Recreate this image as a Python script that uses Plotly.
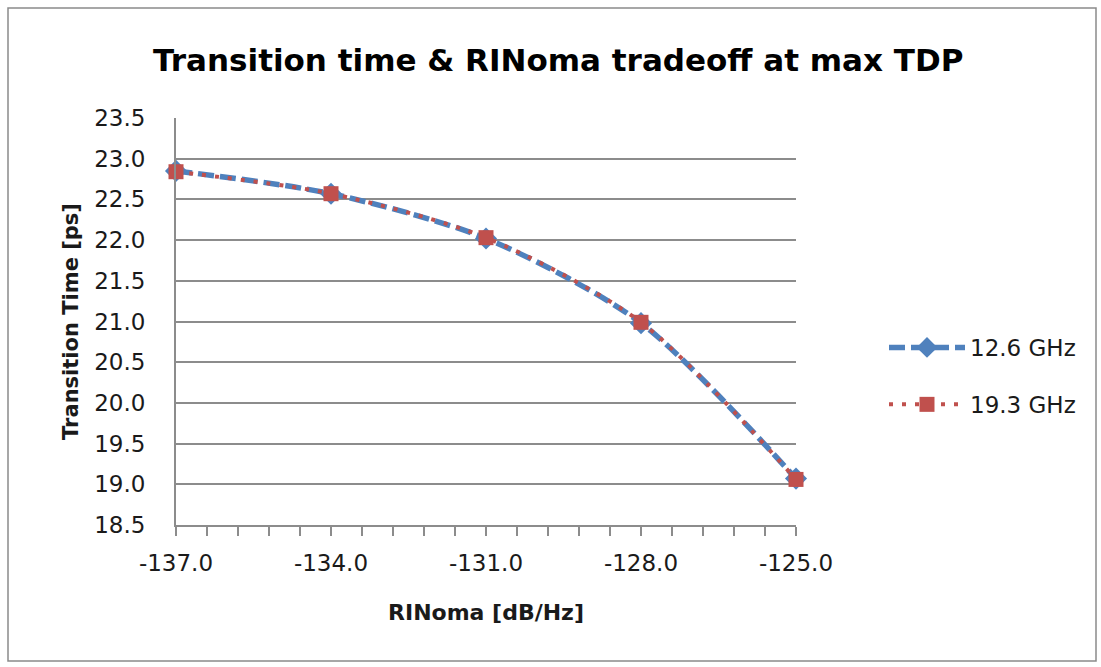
import plotly.graph_objects as go

x_vals = [-137.0, -134.0, -131.0, -128.0, -125.0]
y_126 = [22.85, 22.57, 22.02, 20.98, 19.07]
y_193 = [22.84, 22.57, 22.03, 20.99, 19.06]
series_names = ["12.6 GHz", "19.3 GHz"]
title_text = "Transition time & RINoma tradeoff at max TDP"
x_title = "RINoma [dB/Hz]"
y_title = "Transition Time [ps]"
x_ticks = [-137.0, -134.0, -131.0, -128.0, -125.0]
y_ticks = [18.5, 19.0, 19.5, 20.0, 20.5, 21.0, 21.5, 22.0, 22.5, 23.0, 23.5]

FONT = "DejaVu Sans"
BLUE = "#4F81BD"
RED = "#C0504D"
GRID = "#8C8C8C"
TXT = "#1a1a1a"

fig = go.Figure()
fig.add_trace(go.Scatter(
    x=x_vals, y=y_126, name=series_names[0], mode="lines+markers",
    line=dict(color=BLUE, width=5.5, dash="16px,6px", shape="spline", smoothing=0.8),
    marker=dict(symbol="diamond", size=17, color=BLUE),
    cliponaxis=False, legendgroup="a"))
fig.add_trace(go.Scatter(
    x=x_vals, y=y_193, name=series_names[1], mode="lines+markers",
    line=dict(color=RED, width=4, dash="4px,9px", shape="spline", smoothing=0.8),
    marker=dict(symbol="square", size=15, color=RED),
    cliponaxis=False, legendgroup="b"))

L, R, T, B = 176, 796, 118, 525
W, H = 1101, 667
pw, ph = R - L, B - T

def px(xp):
    return (xp - L) / pw

def py(yp):
    return (B - yp) / ph

fig.add_shape(type="rect", xref="paper", yref="paper",
              x0=px(8), x1=px(1096), y0=py(8), y1=py(661),
              line=dict(color="#8A8A8A", width=1.5), fillcolor="rgba(0,0,0,0)", layer="below")

fig.update_layout(
    width=W, height=H,
    margin=dict(l=L, r=W - R, t=T, b=H - B),
    paper_bgcolor="white", plot_bgcolor="white",
    title=dict(text="<b>" + title_text + "</b>", x=0.507, xanchor="center",
               y=1 - 60 / H, yanchor="middle",
               font=dict(family=FONT, size=31, color="#000000")),
    font=dict(family=FONT, size=23, color=TXT),
    showlegend=True,
    legend=dict(x=px(884), xanchor="left", y=py(376), yanchor="middle",
                font=dict(family=FONT, size=23, color=TXT),
                tracegroupgap=24, itemwidth=76, bgcolor="rgba(0,0,0,0)"),
    xaxis=dict(range=[-137, -125], tickvals=x_ticks, ticktext=["%.1f" % v for v in x_ticks],
               showgrid=False, zeroline=False, showline=True, linecolor=GRID, linewidth=2,
               ticks="outside", ticklen=9, tickwidth=2, tickcolor=GRID,
               minor=dict(dtick=0.6, tick0=-137, ticks="outside", ticklen=9, tickwidth=2,
                          tickcolor=GRID, showgrid=False),
               ticklabelstandoff=7, tickfont=dict(size=23),
               title=dict(text="<b>" + x_title + "</b>", standoff=30,
                          font=dict(family=FONT, size=22, color=TXT))),
    yaxis=dict(range=[18.5, 23.5], tickvals=y_ticks, ticktext=["%.1f" % v for v in y_ticks],
               showgrid=True, gridcolor=GRID, gridwidth=1.5, zeroline=False,
               showline=True, linecolor=GRID, linewidth=2, ticks="",
               ticklabelstandoff=24, tickfont=dict(size=23),
               title=dict(text="<b>" + y_title + "</b>", standoff=10,
                          font=dict(family=FONT, size=21, color=TXT))),
)

fig.write_html("out.html")
